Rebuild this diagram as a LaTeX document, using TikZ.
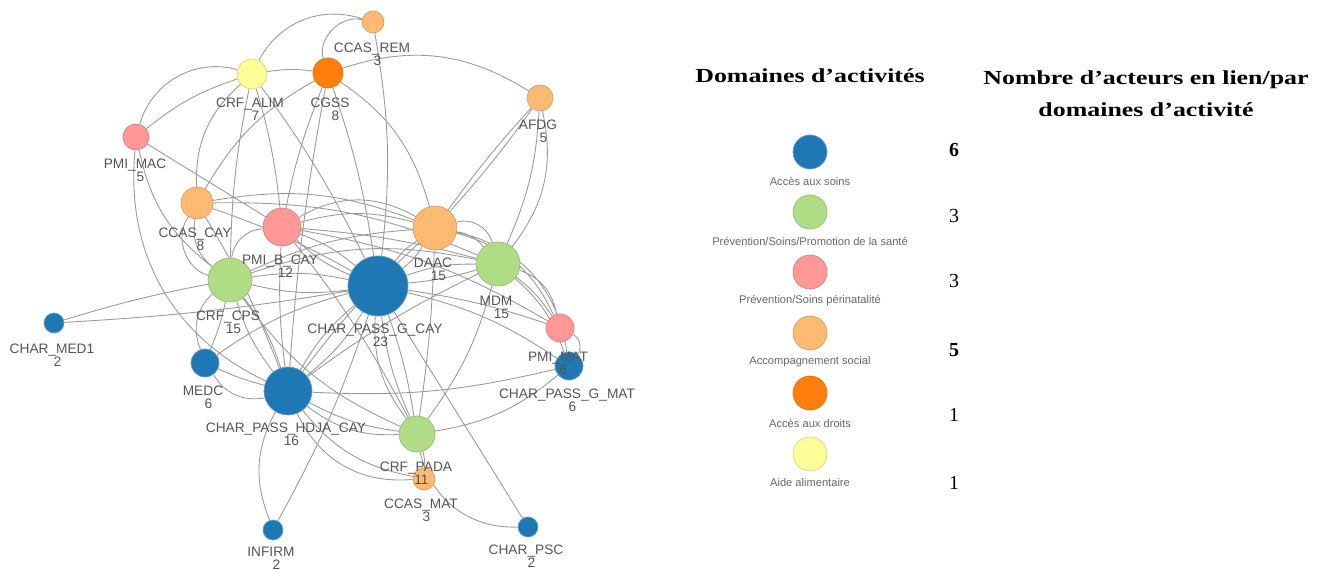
\documentclass[tikz,border=0pt]{standalone}
\usepackage{fontspec}
\setmainfont{Liberation Serif}
\setsansfont{Liberation Sans}
\newfontfamily\titrefont[FakeStretch=1.3]{Liberation Serif}
\usepackage{xcolor}
\usepackage{tikz}
\usetikzlibrary{calc, positioning}

\definecolor{cSoins}{HTML}{1F77B4}
\definecolor{cPrev}{HTML}{B0DC86}
\definecolor{cPerinat}{HTML}{FF9896}
\definecolor{cSocial}{HTML}{FDBA73}
\definecolor{cDroits}{HTML}{FF7F0E}
\definecolor{cAlim}{HTML}{FCFC99}
\definecolor{cLien}{HTML}{9A9A9A}
\definecolor{cEtiq}{HTML}{555555}

\newcommand{\nbact}[1]{\hspace*{0.8em}#1}

\pgfdeclarelayer{fond}
\pgfsetlayers{fond,main}

\begin{document}
\begin{tikzpicture}[x=0.03cm, y=-0.03cm,
    acteur/.style={circle, inner sep=0pt, line width=0.6pt},
    soins/.style={acteur, fill=cSoins, draw=cSoins!70!white, minimum size=#1*0.06cm},
    prev/.style={acteur, fill=cPrev, draw=cPrev!85!black, minimum size=#1*0.06cm},
    perinat/.style={acteur, fill=cPerinat, draw=cPerinat!85!black, minimum size=#1*0.06cm},
    social/.style={acteur, fill=cSocial, draw=cSocial!85!black, minimum size=#1*0.06cm},
    droits/.style={acteur, fill=cDroits, draw=cDroits!90!black, minimum size=#1*0.06cm},
    alim/.style={acteur, fill=cAlim, draw=cAlim!85!black, minimum size=#1*0.06cm},
    lbl/.style={font=\sffamily\fontsize{11.7}{11}\selectfont, text=cEtiq, align=center, inner sep=0pt},
    leg/.style={font=\sffamily\fontsize{9.5}{10}\selectfont, text=black!60, inner sep=0pt},
    nb/.style={font=\fontsize{17}{17}\selectfont, anchor=base, inner sep=0pt},
    titre/.style={font=\titrefont\bfseries\fontsize{17}{27}\selectfont, align=center, inner sep=0pt},
    lien/.style={draw=cLien, line width=0.75pt}]
    \useasboundingbox (0,0) rectangle (1343,573);

    % 1. Các tác nhân (nút) của mạng lưới
    \node[social=11]  (rem)    at (373,22)  {};
    \node[droits=15]  (cgss)   at (328,73)  {};
    \node[alim=15]    (alim)   at (252,74)  {};
    \node[perinat=13] (pmac)   at (136,137) {};
    \node[social=13]  (afdg)   at (540,98)  {};
    \node[social=16]  (ccay)   at (197,203) {};
    \node[perinat=19] (pbcay)  at (282,227) {};
    \node[social=22]  (daac)   at (435,228) {};
    \node[prev=22]    (mdm)    at (498,264) {};
    \node[prev=22]    (cps)    at (230,280) {};
    \node[soins=30]   (gcay)   at (378,286) {};
    \node[soins=10]   (med1)   at (54,323)  {};
    \node[perinat=14] (pmat)   at (560,328) {};
    \node[soins=14]   (gmat)   at (569,366) {};
    \node[soins=14]   (medc)   at (205,363) {};
    \node[soins=24]   (hdja)   at (288,391) {};
    \node[prev=18]    (pada)   at (417,434) {};
    \node[social=11]  (cmat)   at (424,479) {};
    \node[soins=10]   (infirm) at (273,530) {};
    \node[soins=10]   (psc)    at (528,527) {};

    % 2. Các liên kết (vẽ ở lớp dưới)
    \begin{pgfonlayer}{fond}
    \draw[lien] (alim) to[bend left=40] (rem)
        (cgss) to[bend left=60] (rem)
        (rem) to[bend left=8] (gcay)
        (cgss) to[bend left=25] (afdg)
        (afdg) to[bend right=3] (daac) (afdg) to[bend left=3] (daac)
        (afdg) to[bend left=10] (mdm) (afdg) to[bend left=25] (mdm)
        (alim) to[bend left=8] (cgss)
        (alim) to[bend right=45] (pmac) (pmac) to[bend left=10] (alim)
        (alim) to[bend right=25] (ccay)
        (cgss) to[bend right=15] (ccay)
        (alim) to[bend right=5] (cps)
        (alim) to[bend left=5] (pbcay)
        (alim) to[bend left=5] (gcay)
        (cgss) to[bend right=5] (pbcay)
        (cgss) to[bend right=3] (hdja)
        (cgss) to[bend left=20] (daac)
        (cgss) to[bend left=5] (gcay);
    \draw[lien] (pmac) -- (pbcay)
        (pmac) to[bend right=20] (cps)
        (pmac) to[bend right=35] (hdja)
        (ccay) to[bend right=30] (cps) (ccay) to[bend right=55] (cps)
        (ccay) to[bend left=15] (daac)
        (ccay) to[bend left=12] (mdm)
        (ccay) to[bend left=5] (gcay)
        (ccay) to[bend left=5] (hdja)
        (pbcay) to[bend right=40] (cps)
        (pbcay) to[bend left=10] (gcay) (pbcay) to[bend right=10] (gcay)
        (pbcay) to[bend left=15] (daac) (pbcay) to[bend left=30] (daac)
        (pbcay) to[bend left=5] (mdm)
        (pbcay) to[bend right=5] (hdja)
        (pbcay) to[bend left=5] (pada)
        (pbcay) to[bend left=10] (pmat);
    \draw[lien] (daac) to[bend left=20] (mdm) (daac) to[bend left=45] (mdm)
        (gcay) to[bend left=10] (daac) (gcay) to[bend right=10] (daac)
        (cps) to[bend left=10] (daac)
        (daac) to[bend right=5] (hdja)
        (daac) to[bend left=3] (pada)
        (daac) to[bend left=25] (pmat)
        (daac) to[bend left=35] (gmat)
        (gcay) to[bend left=10] (mdm) (gcay) to[bend right=5] (mdm)
        (cps) to[bend left=15] (mdm)
        (mdm) to[bend left=30] (pmat) (mdm) to[bend left=10] (pmat)
        (mdm) to[bend left=15] (gmat)
        (mdm) to[bend left=10] (pada)
        (mdm) to[bend right=5] (hdja);
    \draw[lien] (med1) to[bend left=3] (cps) (med1) to[bend right=3] (gcay)
        (cps) to[bend left=10] (gcay) (cps) to[bend right=10] (gcay)
        (cps) to[bend right=35] (medc) (cps) to[bend left=5] (medc)
        (cps) to[bend right=10] (hdja) (cps) to[bend left=10] (hdja)
        (cps) to[bend right=15] (pada)
        (gcay) -- (psc)
        (infirm) to[bend right=5] (gcay)
        (gcay) to[bend right=10] (medc)
        (gcay) to[bend left=10] (hdja) (gcay) to[bend right=10] (hdja)
        (gcay) to[bend left=5] (pada) (gcay) to[bend right=8] (pada)
        (gcay) to[bend right=20] (pada)
        (gcay) to[bend left=5] (pmat)
        (gcay) to[bend left=10] (gmat);
    \draw[lien] (hdja) to[bend right=25] (infirm)
        (hdja) to[bend right=20] (cmat) (hdja) to[bend right=35] (cmat)
        (medc) to[bend right=35] (hdja) (medc) to[bend right=5] (hdja)
        (hdja) to[bend right=10] (pada) (hdja) to[bend right=20] (pada)
        (hdja) to[bend right=8] (gmat)
        (pada) to[bend right=40] (psc)
        (pada) to[bend left=10] (cmat)
        (pada) to[bend right=15] (gmat)
        (pmat) to[bend left=50] (gmat);
    \end{pgfonlayer}

    % 3. Nhãn của các nút
    \node[lbl] (rem-t)    at (372,54)  {CCAS\_REM\\\nbact{3}};
    \node[lbl] (cgss-t)   at (330,109) {CGSS\\\nbact{8}};
    \node[lbl] (alim-t)   at (250,109) {CRF\_ALIM\\\nbact{7}};
    \node[lbl] (pmac-t)   at (135,170) {PMI\_MAC\\\nbact{5}};
    \node[lbl] (afdg-t)   at (538,131) {AFDG\\\nbact{5}};
    \node[lbl] (ccay-t)   at (195,239) {CCAS\_CAY\\\nbact{8}};
    \node[lbl] (pbcay-t)  at (280,266) {PMI\_B\_CAY\\\nbact{12}};
    \node[lbl] (daac-t)   at (433,269) {DAAC\\\nbact{15}};
    \node[lbl] (mdm-t)    at (496,307) {MDM\\\nbact{15}};
    \node[lbl] (cps-t)    at (228,322) {CRF\_CPS\\\nbact{15}};
    \node[lbl] (gcay-t)   at (375,335) {CHAR\_PASS\_G\_CAY\\\nbact{23}};
    \node[lbl] (med1-t)   at (52,355)  {CHAR\_MED1\\\nbact{2}};
    \node[lbl] (pmat-t)   at (558,363) {PMI\_MAT\\\nbact{6}};
    \node[lbl] (gmat-t)   at (567,400) {CHAR\_PASS\_G\_MAT\\\nbact{6}};
    \node[lbl] (medc-t)   at (203,397) {MEDC\\\nbact{6}};
    \node[lbl] (hdja-t)   at (286,434) {CHAR\_PASS\_HDJA\_CAY\\\nbact{16}};
    \node[lbl] (pada-t)   at (416,473) {CRF\_PADA\\\nbact{11}};
    \node[lbl] (cmat-t)   at (421,510) {CCAS\_MAT\\\nbact{3}};
    \node[lbl] (infirm-t) at (271,558) {INFIRM\\\nbact{2}};
    \node[lbl] (psc-t)    at (526,556) {CHAR\_PSC\\\nbact{2}};

    % 4. Chú thích: lĩnh vực hoạt động
    \node[titre, anchor=base] (titre-dom) at (810,83) {Domaines d’activités};
    \node[titre] (titre-nb) at (1146,94) {Nombre d’acteurs en lien/par\\domaines d’activité};

    \node[soins=17]   (l-soins)   at (810,152) {};
    \node[prev=17]    (l-prev)    at (810,212) {};
    \node[perinat=17] (l-perinat) at (810,272) {};
    \node[social=17]  (l-social)  at (810,333) {};
    \node[droits=17]  (l-droits)  at (810,393) {};
    \node[alim=17]    (l-alim)    at (810,454) {};

    \node[leg] (t-soins)   at (810,181) {Accès aux soins};
    \node[leg] (t-prev)    at (810,241) {Prévention/Soins/Promotion de la santé};
    \node[leg] (t-perinat) at (810,301) {Prévention/Soins périnatalité};
    \node[leg] (t-social)  at (810,362) {Accompagnement social};
    \node[leg] (t-droits)  at (810,423) {Accès aux droits};
    \node[leg] (t-alim)    at (810,483) {Aide alimentaire};

    % 5. Số tác nhân theo lĩnh vực
    \node[nb] (n-soins)   at (954,157) {\bfseries 6};
    \node[nb] (n-prev)    at (954,223) {3};
    \node[nb] (n-perinat) at (954,288) {3};
    \node[nb] (n-social)  at (954,357) {\bfseries 5};
    \node[nb] (n-droits)  at (954,422) {1};
    \node[nb] (n-alim)    at (954,489) {1};
\end{tikzpicture}
\end{document}
